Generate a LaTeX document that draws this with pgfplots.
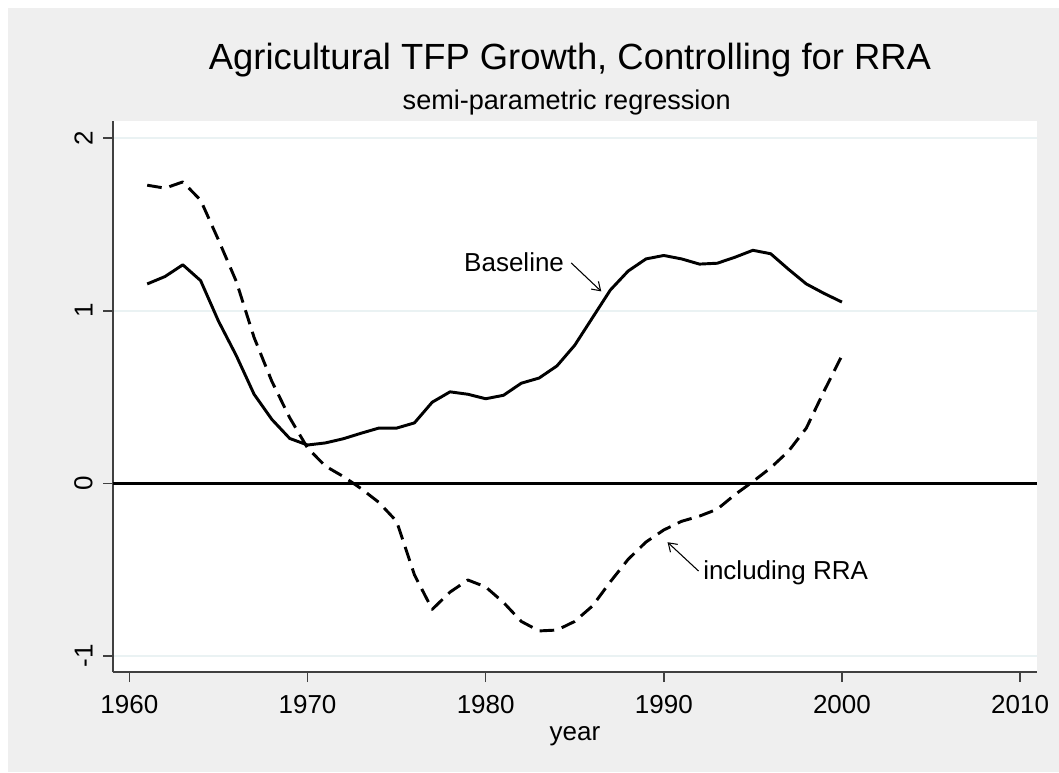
\documentclass[border=0pt]{standalone}
\usepackage{fontspec}
\setmainfont{Liberation Sans}
\usepackage{pgfplots}
\usepackage{pgfplotstable}
\pgfplotsset{compat=1.18}
\usetikzlibrary{arrows.meta}
\definecolor{bggray}{RGB}{239,239,239}
\definecolor{gridc}{RGB}{234,242,243}
\definecolor{axc}{RGB}{64,64,64}
\pgfplotstableread{
year val
1961 1.155
1962 1.198
1963 1.266
1964 1.174
1965 0.94
1966 0.74
1967 0.516
1968 0.37
1969 0.26
1970 0.222
1971 0.234
1972 0.258
1973 0.29
1974 0.32
1975 0.32
1976 0.35
1977 0.47
1978 0.53
1979 0.516
1980 0.49
1981 0.51
1982 0.58
1983 0.61
1984 0.68
1985 0.80
1986 0.96
1987 1.12
1988 1.23
1989 1.30
1990 1.32
1991 1.30
1992 1.27
1993 1.275
1994 1.31
1995 1.35
1996 1.33
1997 1.24
1998 1.155
1999 1.10
2000 1.05
}\baseline
\pgfplotstableread{
year val
1961 1.727
1962 1.71
1963 1.746
1964 1.64
1965 1.41
1966 1.17
1967 0.845
1968 0.59
1969 0.38
1970 0.205
1971 0.10
1972 0.04
1973 -0.03
1974 -0.11
1975 -0.22
1976 -0.53
1977 -0.73
1978 -0.63
1979 -0.56
1980 -0.60
1981 -0.69
1982 -0.80
1983 -0.855
1984 -0.85
1985 -0.80
1986 -0.71
1987 -0.57
1988 -0.44
1989 -0.34
1990 -0.27
1991 -0.22
1992 -0.19
1993 -0.15
1994 -0.065
1995 0.01
1996 0.09
1997 0.186
1998 0.32
1999 0.535
2000 0.74
}\rra
\begin{document}
\begin{tikzpicture}
\fill[white] (0pt,0pt) rectangle (794.25pt,579pt);
\fill[bggray] (6pt,0pt) rectangle (794.25pt,573pt);
\path[use as bounding box] (0pt,0pt) rectangle (794.25pt,579pt);
\node[anchor=base, inner sep=0pt, font=\fontsize{27.3}{29}\selectfont] at (427.5pt,526.5pt) {Agricultural TFP Growth, Controlling for RRA};
\node[anchor=base, inner sep=0pt, font=\fontsize{20.3}{22}\selectfont] at (425pt,496.5pt) {semi-parametric regression};
\node[anchor=base, inner sep=0pt, font=\fontsize{19.5}{21}\selectfont] at (431.25pt,24pt) {year};
\begin{axis}[
  at={(84.75pt,75pt)}, anchor=south west, scale only axis,
  width=693pt, height=413.25pt,
  xmin=1959.08, xmax=2010.95, ymin=-1.093, ymax=2.099,
  axis x line*=bottom, axis y line*=left,
  axis line style={axc, line width=1.5pt, -},
  xtick={1960,1970,1980,1990,2000,2010}, ytick={-1,0,1,2},
  tick align=outside, major tick length=7.5pt,
  tick style={axc, line width=1.2pt},
  /pgf/number format/assume math mode=true,
  /pgf/number format/1000 sep={},
  xticklabel style={font=\fontsize{19.5}{21}\selectfont, inner sep=0pt, anchor=north, yshift=-10pt},
  yticklabel style={font=\fontsize{19.5}{21}\selectfont, inner sep=0pt, rotate=90, anchor=south, yshift=7.5pt},
  axis background/.style={fill=white},
  ymajorgrids, grid style={gridc, line width=1.5pt},
  clip=false,
]
\addplot[black, line width=2.2pt] coordinates {(1959.08,0) (2010.95,0)};
\addplot[black, line width=2.2pt, line join=round] table[x=year, y=val] {\baseline};
\addplot[black, line width=2.2pt, line join=round, dash pattern=on 11pt off 6pt] table[x=year, y=val] {\rra};
\node[anchor=base east, inner sep=0pt, font=\fontsize{19.5}{21}\selectfont] at (axis cs:1984.41,1.227) {Baseline};
\draw[black, line width=0.8pt, -{Straight Barb[length=6pt, width=8pt]}] (axis cs:1984.8,1.277) -- (axis cs:1986.49,1.112);
\node[anchor=base west, inner sep=0pt, font=\fontsize{19.5}{21}\selectfont] at (axis cs:1992.2,-0.56) {including RRA};
\draw[black, line width=0.8pt, -{Straight Barb[length=6pt, width=8pt]}] (axis cs:1991.95,-0.508) -- (axis cs:1990.21,-0.341);
\end{axis}
\end{tikzpicture}
\end{document}
